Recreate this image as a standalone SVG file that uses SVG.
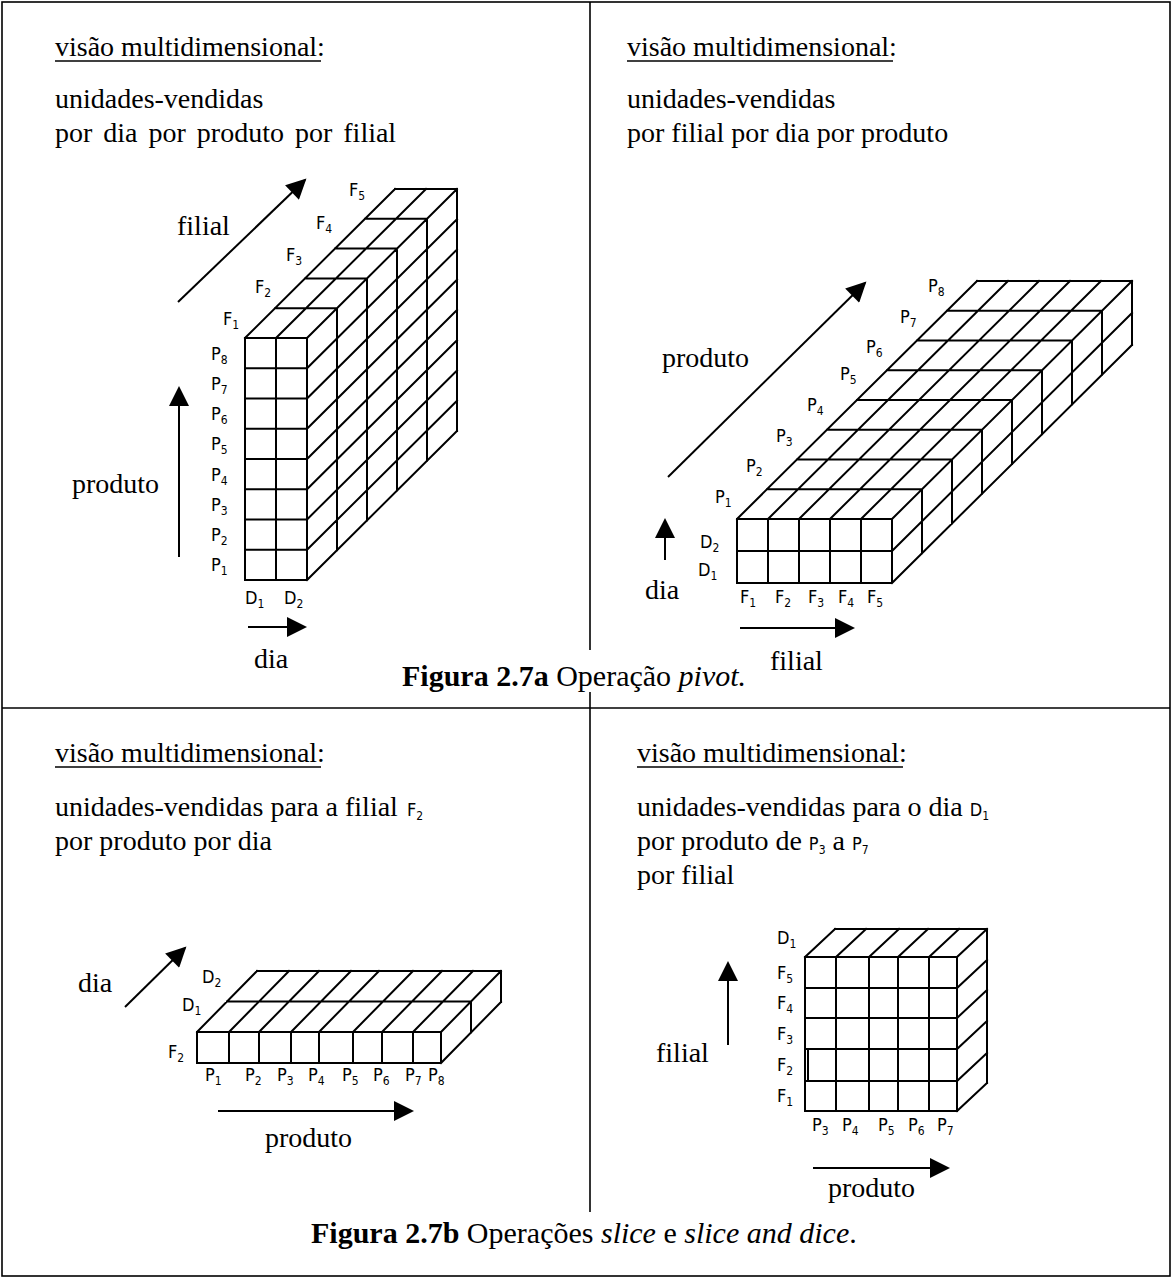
<svg xmlns="http://www.w3.org/2000/svg" width="1172" height="1278" viewBox="0 0 1172 1278">
<style>
.t{font-family:"Liberation Serif","Times New Roman",serif;font-size:28px;fill:#000}
.c{font-family:"Liberation Serif","Times New Roman",serif;font-size:30px;fill:#000}
.l{font-family:"Liberation Sans Narrow","DejaVu Sans Condensed","Liberation Sans",sans-serif;font-size:18px;fill:#000}
.s{font-size:12px}
.g{fill:none;stroke:#000;stroke-width:2;stroke-linecap:square}
.b{fill:none;stroke:#000;stroke-width:1.6}
.a{fill:none;stroke:#000;stroke-width:2;marker-end:url(#ah)}
</style>
<defs>
<marker id="ah" viewBox="0 0 10 10" refX="9" refY="5" markerUnits="userSpaceOnUse" markerWidth="22" markerHeight="20" orient="auto"><path d="M0,0 L10,5 L0,10 z" fill="#000"/></marker>
</defs>
<rect width="1172" height="1278" fill="#fff"/>
<g id="frame">
<rect x="2" y="2" width="1168" height="1274" class="b"/>
<line x1="2" y1="708" x2="1170" y2="708" class="b"/>
<line x1="590" y1="2" x2="590" y2="650" class="b"/>
<line x1="590" y1="692" x2="590" y2="708" class="b"/>
<line x1="590" y1="708" x2="590" y2="1212" class="b"/>
</g>

<!-- Top-left panel -->
<g id="tl-text">
<text class="t" x="55" y="56">visão multidimensional:</text>
<line x1="55" y1="61" x2="321" y2="61" class="b"/>
<text class="t" x="55" y="108">unidades-vendidas</text>
<text class="t" x="55" y="142" word-spacing="4">por dia por produto por filial</text>
</g>
<g id="tl-cube">
<path class="g" d="M245,338 H307 V580 H245 Z M276,338 V580
M245,368.25 H307 M245,398.5 H307 M245,428.75 H307 M245,459 H307 M245,489.25 H307 M245,519.5 H307 M245,549.75 H307
M245,338 L395,189 M276,338 L426,189 M307,338 L457,189
M275,308.2 H337 M305,278.4 H367 M335,248.6 H397 M365,218.8 H427 M395,189 H457
M337,308.2 V550.2 M367,278.4 V520.4 M397,248.6 V490.6 M427,218.8 V460.8 M457,189 V431
M307,368.25 L457,219.25 M307,398.5 L457,249.5 M307,428.75 L457,279.75 M307,459 L457,310 M307,489.25 L457,340.25 M307,519.5 L457,370.5 M307,549.75 L457,400.75 M307,580 L457,431"/>
</g>
<g id="tl-labels">
<text class="l" x="223" y="325">F<tspan class="s" dy="4">1</tspan></text>
<text class="l" x="255" y="293">F<tspan class="s" dy="4">2</tspan></text>
<text class="l" x="286" y="261">F<tspan class="s" dy="4">3</tspan></text>
<text class="l" x="316" y="229">F<tspan class="s" dy="4">4</tspan></text>
<text class="l" x="349" y="196">F<tspan class="s" dy="4">5</tspan></text>
<text class="l" x="211" y="360">P<tspan class="s" dy="4">8</tspan></text>
<text class="l" x="211" y="390">P<tspan class="s" dy="4">7</tspan></text>
<text class="l" x="211" y="420">P<tspan class="s" dy="4">6</tspan></text>
<text class="l" x="211" y="450">P<tspan class="s" dy="4">5</tspan></text>
<text class="l" x="211" y="481">P<tspan class="s" dy="4">4</tspan></text>
<text class="l" x="211" y="511">P<tspan class="s" dy="4">3</tspan></text>
<text class="l" x="211" y="541">P<tspan class="s" dy="4">2</tspan></text>
<text class="l" x="211" y="571">P<tspan class="s" dy="4">1</tspan></text>
<text class="l" x="245" y="604">D<tspan class="s" dy="4">1</tspan></text>
<text class="l" x="284" y="604">D<tspan class="s" dy="4">2</tspan></text>
</g>
<g id="tl-axes">
<line class="a" x1="178" y1="302" x2="305" y2="180"/>
<text class="t" x="177" y="235">filial</text>
<line class="a" x1="179" y1="557" x2="179" y2="388"/>
<text class="t" x="72" y="493">produto</text>
<line class="a" x1="248" y1="627" x2="305" y2="627"/>
<text class="t" x="254" y="668">dia</text>
</g>

<!-- Top-right panel -->
<g id="tr-text">
<text class="t" x="627" y="56">visão multidimensional:</text>
<line x1="627" y1="61" x2="893" y2="61" class="b"/>
<text class="t" x="627" y="108">unidades-vendidas</text>
<text class="t" x="627" y="142">por filial por dia por produto</text>
</g>
<g id="tr-cube">
<path class="g" d="M737,519 H892 V583 H737 Z M737,551 H892 M768,519 V583 M799,519 V583 M830,519 V583 M861,519 V583
M737,519 L977,281 M768,519 L1008,281 M799,519 L1039,281 M830,519 L1070,281 M861,519 L1101,281 M892,519 L1132,281
M767,489.25 H922 M797,459.5 H952 M827,429.75 H982 M857,400 H1012 M887,370.25 H1042 M917,340.5 H1072 M947,310.75 H1102 M977,281 H1132
M922,489.25 V553.25 M952,459.5 V523.5 M982,429.75 V493.75 M1012,400 V464 M1042,370.25 V434.25 M1072,340.5 V404.5 M1102,310.75 V374.75 M1132,281 V345
M892,551 L1132,313 M892,583 L1132,345"/>
</g>
<g id="tr-labels">
<text class="l" x="715" y="503">P<tspan class="s" dy="4">1</tspan></text>
<text class="l" x="746" y="472">P<tspan class="s" dy="4">2</tspan></text>
<text class="l" x="776" y="442">P<tspan class="s" dy="4">3</tspan></text>
<text class="l" x="807" y="411">P<tspan class="s" dy="4">4</tspan></text>
<text class="l" x="840" y="380">P<tspan class="s" dy="4">5</tspan></text>
<text class="l" x="866" y="353">P<tspan class="s" dy="4">6</tspan></text>
<text class="l" x="900" y="323">P<tspan class="s" dy="4">7</tspan></text>
<text class="l" x="928" y="292">P<tspan class="s" dy="4">8</tspan></text>
<text class="l" x="700" y="548">D<tspan class="s" dy="4">2</tspan></text>
<text class="l" x="698" y="576">D<tspan class="s" dy="4">1</tspan></text>
<text class="l" x="740" y="603">F<tspan class="s" dy="4">1</tspan></text>
<text class="l" x="775" y="603">F<tspan class="s" dy="4">2</tspan></text>
<text class="l" x="808" y="603">F<tspan class="s" dy="4">3</tspan></text>
<text class="l" x="838" y="603">F<tspan class="s" dy="4">4</tspan></text>
<text class="l" x="867" y="603">F<tspan class="s" dy="4">5</tspan></text>
</g>
<g id="tr-axes">
<line class="a" x1="668" y1="477" x2="865" y2="283"/>
<text class="t" x="662" y="367">produto</text>
<line class="a" x1="665" y1="560" x2="665" y2="520"/>
<text class="t" x="645" y="599">dia</text>
<line class="a" x1="740" y1="628" x2="853" y2="628"/>
<text class="t" x="770" y="670">filial</text>
</g>
<g id="caption-a">
<text class="c" x="402" y="686"><tspan font-weight="bold">Figura 2.7a</tspan> Operação <tspan font-style="italic">pivot.</tspan></text>
</g>

<!-- Bottom-left panel -->
<g id="bl-text">
<text class="t" x="55" y="762">visão multidimensional:</text>
<line x1="55" y1="767" x2="321" y2="767" class="b"/>
<text class="t" x="55" y="816">unidades-vendidas para a filial <tspan class="l" x="407">F<tspan class="s" dy="4">2</tspan></tspan></text>
<text class="t" x="55" y="850">por produto por dia</text>
</g>
<g id="bl-slab">
<path class="g" d="M197,1032 H441 V1063 H197 Z M229,1032 V1063 M259,1032 V1063 M291,1032 V1063 M319,1032 V1063 M353,1032 V1063 M382,1032 V1063 M413,1032 V1063
M197,1032 L257,971 M229,1032 L289,971 M259,1032 L319,971 M291,1032 L351,971 M319,1032 L379,971 M353,1032 L413,971 M382,1032 L442,971 M413,1032 L473,971 M441,1032 L501,971
M227,1001.5 H471 M257,971 H501
M471,1001.5 V1032.5 M501,971 V1002 M441,1063 L501,1002"/>
</g>
<g id="bl-labels">
<text class="l" x="202" y="983">D<tspan class="s" dy="4">2</tspan></text>
<text class="l" x="182" y="1011">D<tspan class="s" dy="4">1</tspan></text>
<text class="l" x="168" y="1058">F<tspan class="s" dy="4">2</tspan></text>
<text class="l" x="205" y="1081">P<tspan class="s" dy="4">1</tspan></text>
<text class="l" x="245" y="1081">P<tspan class="s" dy="4">2</tspan></text>
<text class="l" x="277" y="1081">P<tspan class="s" dy="4">3</tspan></text>
<text class="l" x="308" y="1081">P<tspan class="s" dy="4">4</tspan></text>
<text class="l" x="342" y="1081">P<tspan class="s" dy="4">5</tspan></text>
<text class="l" x="373" y="1081">P<tspan class="s" dy="4">6</tspan></text>
<text class="l" x="405" y="1081">P<tspan class="s" dy="4">7</tspan></text>
<text class="l" x="428" y="1081">P<tspan class="s" dy="4">8</tspan></text>
</g>
<g id="bl-axes">
<line class="a" x1="125" y1="1007" x2="185" y2="948"/>
<text class="t" x="78" y="992">dia</text>
<line class="a" x1="218" y1="1111" x2="412" y2="1111"/>
<text class="t" x="265" y="1147">produto</text>
</g>

<!-- Bottom-right panel -->
<g id="br-text">
<text class="t" x="637" y="762">visão multidimensional:</text>
<line x1="637" y1="767" x2="903" y2="767" class="b"/>
<text class="t" x="637" y="816">unidades-vendidas para o dia <tspan class="l">D<tspan class="s" dy="4">1</tspan></tspan></text>
<text class="t" x="637" y="850">por produto de <tspan class="l">P<tspan class="s" dy="4">3</tspan></tspan><tspan dy="-4"> a </tspan><tspan class="l">P<tspan class="s" dy="4">7</tspan></tspan></text>
<text class="t" x="637" y="884">por filial</text>
</g>
<g id="br-cube">
<path class="g" d="M805,957 H957 V1111 H805 Z M836,957 V1111 M869,957 V1111 M898,957 V1111 M929,957 V1111
M805,988 H957 M805,1018 H957 M805,1049 H957 M805,1081 H957
M805,957 L835,929 M836,957 L866,929 M869,957 L899,929 M898,957 L928,929 M929,957 L959,929 M957,957 L987,929 M835,929 H987
M987,929 V1083 M957,988 L987,960 M957,1018 L987,990 M957,1049 L987,1021 M957,1081 L987,1053 M957,1111 L987,1083
M808,1049 V1081"/>
</g>
<g id="br-labels">
<text class="l" x="777" y="944">D<tspan class="s" dy="4">1</tspan></text>
<text class="l" x="777" y="979">F<tspan class="s" dy="4">5</tspan></text>
<text class="l" x="777" y="1009">F<tspan class="s" dy="4">4</tspan></text>
<text class="l" x="777" y="1040">F<tspan class="s" dy="4">3</tspan></text>
<text class="l" x="777" y="1071">F<tspan class="s" dy="4">2</tspan></text>
<text class="l" x="777" y="1102">F<tspan class="s" dy="4">1</tspan></text>
<text class="l" x="812" y="1131">P<tspan class="s" dy="4">3</tspan></text>
<text class="l" x="842" y="1131">P<tspan class="s" dy="4">4</tspan></text>
<text class="l" x="878" y="1131">P<tspan class="s" dy="4">5</tspan></text>
<text class="l" x="908" y="1131">P<tspan class="s" dy="4">6</tspan></text>
<text class="l" x="937" y="1131">P<tspan class="s" dy="4">7</tspan></text>
</g>
<g id="br-axes">
<line class="a" x1="728" y1="1045" x2="728" y2="963"/>
<text class="t" x="656" y="1062">filial</text>
<line class="a" x1="813" y1="1168" x2="948" y2="1168"/>
<text class="t" x="828" y="1197">produto</text>
</g>
<g id="caption-b">
<text class="c" x="311" y="1243"><tspan font-weight="bold">Figura 2.7b</tspan> Operações <tspan font-style="italic">slice</tspan> e <tspan font-style="italic">slice and dice</tspan>.</text>
</g>
</svg>
